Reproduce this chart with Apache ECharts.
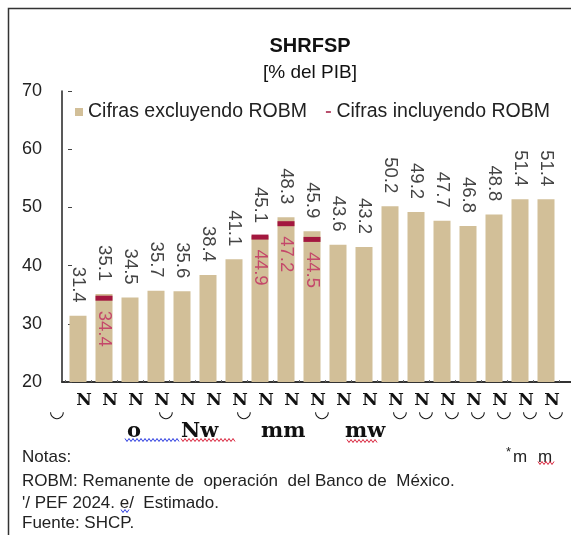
<!DOCTYPE html>
<html>
<head>
<meta charset="utf-8">
<script src="https://cdn.jsdelivr.net/npm/echarts@6/dist/echarts.min.js"></script>
<style>
html, body { margin: 0; padding: 0; background: #fff; }
#chart { width: 571px; height: 535px; }
</style>
</head>
<body>
<div id="chart"></div>
<script>
// categorias (etiquetas del eje, tal como salen en la imagen)
var categories = ['N', 'N', 'N', 'N', 'N', 'N', 'N', 'N', 'N', 'N', 'N', 'N', 'N', 'N', 'N', 'N', 'N', 'N', 'N'];
// indices con la marca "◡" debajo
var cupIdx = [3, 6, 9, 12, 13, 14, 15, 16, 17, 18];
// SHRFSP sin ROBM
var sinRobm = [31.4, 35.1, 34.5, 35.7, 35.6, 38.4, 41.1, 45.1, 48.3, 45.9, 43.6, 43.2, 50.2, 49.2, 47.7, 46.8, 48.8, 51.4, 51.4];
// SHRFSP con ROBM
var conRobm = [null, 34.4, null, null, null, null, null, 44.9, 47.2, 44.5, null, null, null, null, null, null, null, null, null];
var yMin = 20, yMax = 70, yStep = 10;

var chart = echarts.init(document.getElementById('chart'));

// subrayado ondulado (corrector)
function wave(x0, x1, y, color) {
  var pts = [];
  var up = true;
  for (var x = x0; x <= x1; x += 2) {
    pts.push([x, up ? y - 1.5 : y + 1.5]);
    up = !up;
  }
  return { type: 'polyline', shape: { points: pts }, style: { stroke: color, lineWidth: 1, fill: null }, z: 10 };
}

var option = {
  textStyle: { fontFamily: 'Liberation Sans' },
  title: {
    text: 'SHRFSP',
    subtext: '[% del PIB]',
    left: 305,
    top: 31,
    textAlign: 'center',
    itemGap: 7,
    textStyle: { fontSize: 20, fontWeight: 'bold', color: '#111' },
    subtextStyle: { fontSize: 19, color: '#111' }
  },
  legend: {
    left: 70,
    top: 97,
    itemWidth: 8,
    itemHeight: 8,
    itemGap: 17,
    textStyle: { fontSize: 19.5, color: '#222' },
    data: [
      { name: 'Cifras excluyendo ROBM', icon: 'rect' },
      { name: 'Cifras incluyendo ROBM', icon: 'path://M0,0L0.01,0L0.01,0.01Z M2,3.2h5v1.6h-5z M0,8L0.01,8L0.01,7.99Z' }
    ]
  },
  grid: [
    { left: 62, right: -30, top: 91, bottom: 153 },
    { left: 65, width: 494, top: 91, bottom: 153 }
  ],
  xAxis: [
    {
      gridIndex: 0, type: 'value', min: 0, max: 1,
      axisLine: { show: true, lineStyle: { color: '#333', width: 2 } },
      axisTick: { show: false }, axisLabel: { show: false }, splitLine: { show: false }
    },
    {
      gridIndex: 1, type: 'category', data: categories,
      axisLine: { show: false },
      axisTick: { show: true, inside: true, length: 2, lineStyle: { color: '#666' } },
      axisLabel: {
        interval: 0,
        margin: 12,
        padding: [0, 0, 0, 12],
        formatter: function (v, i) {
          if (i === 0) return '{n|' + v + '}\n{c0|◡}';
          if (cupIdx.indexOf(i) >= 0) return '{n|' + v + '}\n{c|◡}';
          return '{n|' + v + '}';
        },
        rich: {
          n: { fontFamily: 'DejaVu Serif', fontWeight: 'bold', fontSize: 17, lineHeight: 13, color: '#111' },
          c: { fontFamily: 'DejaVu Sans', fontWeight: 'bold', fontSize: 18, lineHeight: 11, color: '#111', padding: [0, 0, 0, 8] },
          c0: { fontFamily: 'DejaVu Sans', fontWeight: 'bold', fontSize: 18, lineHeight: 11, color: '#111', padding: [0, 54, 0, 0] }
        }
      },
      splitLine: { show: false }
    }
  ],
  yAxis: [
    {
      gridIndex: 0, type: 'value', min: yMin, max: yMax, interval: yStep,
      axisLine: { show: true, lineStyle: { color: '#222', width: 1.5 } },
      axisTick: { show: false },
      axisLabel: { margin: 20, fontSize: 18, color: '#222' },
      splitLine: { show: false }
    },
    {
      gridIndex: 1, type: 'value', min: yMin, max: yMax, interval: yStep,
      offset: -3,
      axisLine: { show: false },
      axisTick: { show: true, inside: true, length: 4, lineStyle: { color: '#444' } },
      axisLabel: { show: false },
      splitLine: { show: false }
    }
  ],
  series: [
    {
      name: 'Cifras excluyendo ROBM',
      type: 'bar',
      xAxisIndex: 1,
      yAxisIndex: 1,
      data: sinRobm,
      barWidth: 17,
      itemStyle: { color: '#D2BF98' },
      label: {
        show: true,
        position: 'top',
        rotate: -90,
        align: 'right',
        verticalAlign: 'middle',
        distance: 13,
        fontSize: 18.5,
        color: '#444',
        formatter: function (p) { return p.value.toFixed(1); }
      }
    },
    {
      name: 'Cifras incluyendo ROBM',
      type: 'scatter',
      xAxisIndex: 1,
      yAxisIndex: 1,
      data: conRobm,
      symbol: 'rect',
      symbolSize: [17, 5],
      itemStyle: { color: '#A3173F', opacity: 1 },
      label: {
        show: true,
        position: 'bottom',
        rotate: -90,
        align: 'left',
        verticalAlign: 'middle',
        distance: 10,
        fontSize: 18.5,
        color: '#C4486A',
        formatter: function (p) { return p.value.toFixed(1); }
      },
      z: 5
    }
  ],
  graphic: [
    { type: 'rect', shape: { x: 8.5, y: 8.5, width: 700, height: 700 }, style: { fill: null, stroke: '#333', lineWidth: 1.5 }, silent: true },
    { type: 'text', x: 127, y: 432, style: { text: 'o', font: 'bold 21px "DejaVu Serif"', fill: '#111', textVerticalAlign: 'middle' } },
    { type: 'text', x: 181, y: 432, style: { text: 'Nw', font: 'bold 21px "DejaVu Serif"', fill: '#111', textVerticalAlign: 'middle' } },
    { type: 'text', x: 261, y: 432, style: { text: 'mm', font: 'bold 21px "DejaVu Serif"', fill: '#111', textVerticalAlign: 'middle' } },
    { type: 'text', x: 345, y: 432, style: { text: 'mw', font: 'bold 21px "DejaVu Serif"', fill: '#111', textVerticalAlign: 'middle' } },
    wave(125, 180, 440, '#2B3BE0'),
    wave(181, 236, 440, '#D8213A'),
    wave(347, 378, 441, '#D8213A'),
    { type: 'text', x: 22, y: 457, style: { text: 'Notas:', font: '17px "Liberation Sans"', fill: '#222', textVerticalAlign: 'middle' } },
    { type: 'text', x: 506, y: 452, style: { text: '*', font: '13px "Liberation Sans"', fill: '#222', textVerticalAlign: 'middle' } },
    { type: 'text', x: 513, y: 457, style: { text: 'm', font: '17px "Liberation Sans"', fill: '#222', textVerticalAlign: 'middle' } },
    { type: 'text', x: 538, y: 457, style: { text: 'm', font: '17px "Liberation Sans"', fill: '#222', textVerticalAlign: 'middle' } },
    wave(538, 554, 463, '#D8213A'),
    { type: 'text', x: 22, y: 481, style: { text: 'ROBM: Remanente de  operación  del Banco de  México.', font: '17px "Liberation Sans"', fill: '#222', textVerticalAlign: 'middle' } },
    { type: 'text', x: 22, y: 503, style: { text: "'/ PEF 2024. e/  Estimado.", font: '17px "Liberation Sans"', fill: '#222', textVerticalAlign: 'middle' } },
    wave(121, 129, 511, '#2B3BE0'),
    { type: 'text', x: 22, y: 523, style: { text: 'Fuente: SHCP.', font: '17px "Liberation Sans"', fill: '#222', textVerticalAlign: 'middle' } }
  ]
};

chart.setOption(option);
</script>
</body>
</html>
